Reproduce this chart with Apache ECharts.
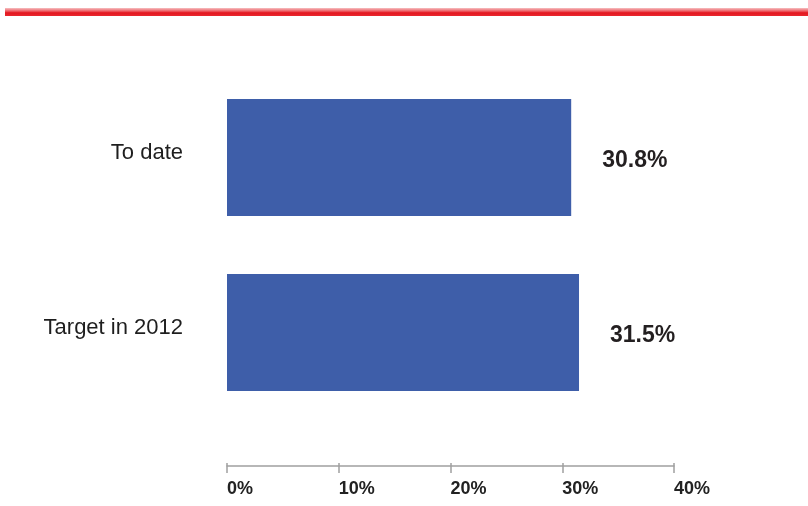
<!DOCTYPE html>
<html><head><meta charset="utf-8">
<script src="https://cdn.jsdelivr.net/npm/echarts@6/dist/echarts.min.js"></script>
<style>html,body{margin:0;padding:0;background:#fff}#c{width:808px;height:506px}</style>
</head><body><div id="c"></div>
<script>
const categories = ['To date', 'Target in 2012'];
const values = [30.8, 31.5];
const tickLabels = ['0%', '10%', '20%', '30%', '40%'];

const chart = echarts.init(document.getElementById('c'), null, {renderer: 'canvas'});
const font = 'Liberation Sans, Arial, Helvetica, sans-serif';
chart.setOption({
  animation: false,
  backgroundColor: '#fff',
  graphic: [{
    type: 'rect', left: 5, top: 8,
    shape: {width: 803, height: 8},
    style: {fill: new echarts.graphic.LinearGradient(0, 0, 0, 1, [
      {offset: 0, color: '#f6c0c2'}, {offset: 0.4, color: '#ee5a60'}, {offset: 0.6, color: '#e3161e'}, {offset: 1, color: '#e8282f'}])}
  }],
  grid: {left: 227, right: 134, top: 70, height: 350},
  xAxis: [{
    type: 'value', min: 0, max: 40, interval: 10, position: 'bottom', offset: 46,
    splitLine: {show: false},
    axisLine: {show: true, lineStyle: {color: '#a0a0a0', width: 1.5}},
    axisTick: {show: true, length: 7, lineStyle: {color: '#a0a0a0', width: 1.5}},
    axisLabel: {
      margin: 14, align: 'left', color: '#222', fontFamily: font, fontWeight: 'bold', fontSize: 18,
      formatter: (v) => tickLabels[Math.round(v / 10)]
    }
  }, {
    type: 'value', min: 0, max: 40, interval: 10, position: 'bottom', offset: 46,
    splitLine: {show: false},
    axisLine: {show: false},
    axisTick: {show: true, inside: true, length: 3, lineStyle: {color: '#a0a0a0', width: 1.5}},
    axisLabel: {show: false}
  }],
  yAxis: {
    type: 'category', data: categories, inverse: true,
    axisLine: {show: false}, axisTick: {show: false},
    axisLabel: {
      margin: 44, formatter: (v) => '{c|' + v + '}',
      rich: {c: {color: '#1e1e1e', fontFamily: font, fontSize: 22, padding: [0, 0, 10, 0]}}
    }
  },
  series: [{
    type: 'bar', data: values, barWidth: 117, xAxisIndex: 0,
    itemStyle: {color: '#3e5ea9'},
    label: {
      show: true, position: 'right', distance: 31, offset: [0, 3],
      color: '#231f20', fontFamily: font, fontWeight: 'bold', fontSize: 23,
      formatter: (p) => p.value.toFixed(1) + '%'
    }
  }]
});
</script></body></html>
